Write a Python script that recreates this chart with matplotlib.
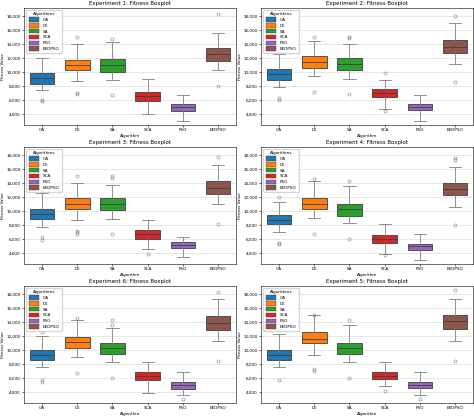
import numpy as np
import matplotlib.pyplot as plt
from matplotlib.patches import Patch
from matplotlib.ticker import FuncFormatter

algorithms = ['GA', 'DE', 'SA', 'SCA', 'PSO', 'EEDPSO']
colors = ['#1f77b4', '#ff7f0e', '#2ca02c', '#d62728', '#9467bd', '#8c564b']

# per experiment, per algorithm: (q1, median, q3, whisker low, whisker high, fliers)
exp1 = [(8400, 9200, 9900, 7500, 12100, [5900, 6000]),
        (10300, 11100, 11800, 8800, 14000, [6900, 7100, 15000]),
        (10100, 11100, 11900, 8900, 14400, [6800, 14800]),
        (5900, 6600, 7200, 4000, 9100, []),
        (4500, 5000, 5500, 3000, 6800, []),
        (11700, 12700, 13500, 10300, 15600, [8000, 18400])]
exp2 = [(8900, 9800, 10500, 7900, 12700, [6100, 6300, 13000]),
        (10600, 11500, 12300, 9500, 14500, [7200, 15000]),
        (10300, 11200, 12000, 9000, 14000, [6900, 14900, 15100]),
        (6500, 7000, 7600, 4700, 8900, [4500, 9900]),
        (4600, 5100, 5500, 3000, 6800, []),
        (12800, 13700, 14700, 11200, 17000, [8600, 18000])]
exp3 = [(8900, 9700, 10400, 7800, 12600, [5900, 6300, 12800]),
        (10300, 11100, 11900, 8800, 14000, [6800, 7000, 7200, 15000]),
        (10200, 11100, 11900, 8900, 13800, [6800, 14800, 15100]),
        (6100, 6700, 7300, 4600, 8800, [3900]),
        (4700, 5200, 5600, 3500, 6400, []),
        (12500, 13400, 14300, 11000, 16700, [8200, 17800])]
exp4 = [(8200, 8800, 9500, 7100, 11400, [5300, 5500, 12000]),
        (10300, 11100, 11900, 9100, 14300, [6700, 14600]),
        (9400, 10300, 11100, 8300, 13600, [6000, 14300]),
        (5500, 6100, 6600, 3900, 8200, [3800]),
        (4500, 5000, 5400, 3000, 6700, []),
        (12300, 13200, 14100, 10700, 16400, [8000, 17400, 17600])]
exp6 = [(8700, 9300, 10000, 7600, 12000, [5500, 5800, 12600]),
        (10300, 11200, 11900, 9100, 14400, [6700, 14700]),
        (9500, 10400, 11100, 8300, 13200, [6000, 13700, 14300]),
        (5700, 6300, 6900, 3900, 8300, []),
        (4500, 5000, 5500, 3600, 6900, [3000]),
        (12900, 13900, 14900, 11400, 17300, [8500, 18400])]
exp5 = [(8600, 9400, 10100, 7700, 12400, [5800, 13000]),
        (11000, 11700, 12600, 9400, 15000, [7000, 7300, 15100]),
        (9500, 10300, 11100, 8400, 13700, [6000, 14400]),
        (5900, 6300, 6900, 4900, 8400, [4200]),
        (4600, 5000, 5500, 3600, 6900, [3000]),
        (13100, 14200, 15100, 11400, 17400, [8500, 18700])]

panels = [('Experiment 1', exp1), ('Experiment 2', exp2),
          ('Experiment 3', exp3), ('Experiment 4', exp4),
          ('Experiment 6', exp6), ('Experiment 5', exp5)]

plt.rcParams['font.size'] = 3
fig, axes = plt.subplots(3, 2, figsize=(4.74, 4.17), dpi=100)

for ax, (name, data) in zip(axes.flat, panels):
    stats = []
    for alg, (q1, med, q3, lo, hi, fl) in zip(algorithms, data):
        stats.append(dict(label=alg, q1=q1, med=med, q3=q3,
                          whislo=lo, whishi=hi, fliers=fl))
    bp = ax.bxp(stats, positions=range(len(algorithms)), widths=0.7,
                patch_artist=True,
                medianprops=dict(color='#3f3f3f', linewidth=0.6),
                whiskerprops=dict(color='#7f7f7f', linewidth=0.6),
                capprops=dict(color='#7f7f7f', linewidth=0.6),
                boxprops=dict(edgecolor='#3f3f3f', linewidth=0.6),
                flierprops=dict(marker='o', markersize=2.2, markerfacecolor='none',
                                markeredgecolor='#7f7f7f', markeredgewidth=0.4))
    for patch, c in zip(bp['boxes'], colors):
        patch.set_facecolor(c)
    ax.set_axisbelow(True)
    ax.yaxis.grid(True, color='#dddddd', linewidth=0.5)
    ax.set_ylim(2500, 19200)
    ax.set_yticks(range(4000, 18001, 2000))
    ax.yaxis.set_major_formatter(FuncFormatter(lambda v, p: f'{int(v):,}'))
    ax.set_title(name + ': Fitness Boxplot', fontsize=4, pad=2)
    ax.set_xlabel('Algorithm', fontsize=3, labelpad=1)
    ax.set_ylabel('Fitness Value', fontsize=3, labelpad=1)
    ax.tick_params(length=1.5, width=0.4, pad=1, labelsize=3)
    for s in ax.spines.values():
        s.set_linewidth(0.4)
    handles = [Patch(facecolor=c, edgecolor='#3f3f3f', linewidth=0.3, label=a)
               for a, c in zip(algorithms, colors)]
    ax.legend(handles=handles, title='Algorithms', loc='upper left',
              fontsize=3, title_fontsize=3, handlelength=2.6, handleheight=1.2,
              labelspacing=0.3, borderpad=0.5, frameon=True)

fig.tight_layout(pad=0.3, h_pad=0.6, w_pad=0.6)
fig.savefig('out.png', dpi=100)
